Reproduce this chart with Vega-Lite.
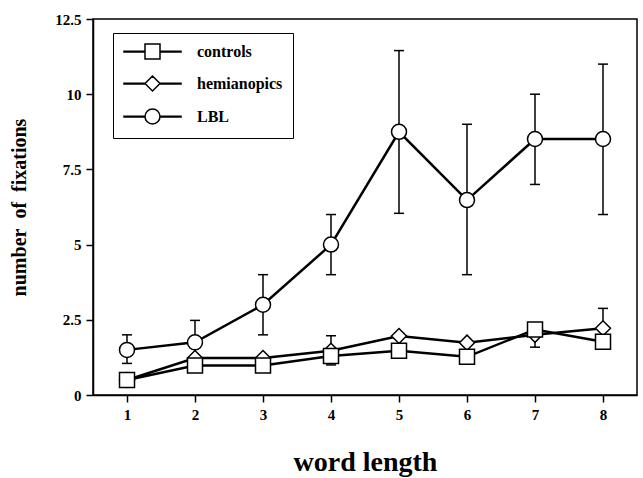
{
  "$schema": "https://vega.github.io/schema/vega-lite/v6.json",
  "width": 544,
  "height": 376,
  "autosize": "none",
  "padding": {"left": 93, "top": 19, "right": 6, "bottom": 83},
  "background": "white",
  "config": {
    "font": "Liberation Serif",
    "view": {"stroke": "black", "strokeWidth": 1.5},
    "axis": {
      "grid": false,
      "domainColor": "black",
      "domainWidth": 1.5,
      "tickColor": "black",
      "tickWidth": 1.5,
      "tickSize": 7,
      "labelFont": "Liberation Serif",
      "labelFontSize": 15,
      "labelFontWeight": "bold",
      "labelColor": "black",
      "titleFont": "Liberation Serif",
      "titleFontWeight": "bold",
      "titleColor": "black"
    }
  },
  "data": {
    "values": [
      {"series": "LBL", "len": 1, "value": 1.5, "lo": 1.05, "hi": 2.0},
      {"series": "LBL", "len": 2, "value": 1.75, "lo": 1.0, "hi": 2.48},
      {"series": "LBL", "len": 3, "value": 3.0, "lo": 2.0, "hi": 4.0},
      {"series": "LBL", "len": 4, "value": 5.0, "lo": 4.0, "hi": 6.0},
      {"series": "LBL", "len": 5, "value": 8.75, "lo": 6.04, "hi": 11.45},
      {"series": "LBL", "len": 6, "value": 6.48, "lo": 4.0, "hi": 9.0},
      {"series": "LBL", "len": 7, "value": 8.51, "lo": 7.0, "hi": 10.0},
      {"series": "LBL", "len": 8, "value": 8.51, "lo": 6.0, "hi": 11.0},
      {"series": "hemianopics", "len": 1, "value": 0.5, "lo": null, "hi": null},
      {"series": "hemianopics", "len": 2, "value": 1.23, "lo": null, "hi": null},
      {"series": "hemianopics", "len": 3, "value": 1.23, "lo": null, "hi": null},
      {"series": "hemianopics", "len": 4, "value": 1.47, "lo": 1.0, "hi": 1.97},
      {"series": "hemianopics", "len": 5, "value": 1.96, "lo": null, "hi": null},
      {"series": "hemianopics", "len": 6, "value": 1.74, "lo": null, "hi": null},
      {"series": "hemianopics", "len": 7, "value": 2.0, "lo": 1.59, "hi": 2.4},
      {"series": "hemianopics", "len": 8, "value": 2.22, "lo": 1.56, "hi": 2.88},
      {"series": "controls", "len": 1, "value": 0.5, "lo": null, "hi": null},
      {"series": "controls", "len": 2, "value": 0.98, "lo": null, "hi": null},
      {"series": "controls", "len": 3, "value": 0.98, "lo": null, "hi": null},
      {"series": "controls", "len": 4, "value": 1.3, "lo": null, "hi": null},
      {"series": "controls", "len": 5, "value": 1.47, "lo": null, "hi": null},
      {"series": "controls", "len": 6, "value": 1.27, "lo": null, "hi": null},
      {"series": "controls", "len": 7, "value": 2.18, "lo": null, "hi": null},
      {"series": "controls", "len": 8, "value": 1.77, "lo": null, "hi": null}
    ]
  },
  "encoding": {
    "x": {"field": "len", "type": "quantitative", "scale": {"domain": [0.5, 8.5], "nice": false}, "axis": {"values": [1,2,3,4,5,6,7,8], "title": "word length", "titleFontSize": 28, "titlePadding": 26, "labelPadding": 5}}
  },
  "layer": [
    {
      "transform": [{"filter": "isValid(datum.lo)"}],
      "mark": {"type": "rule", "color": "black", "strokeWidth": 1.5},
      "encoding": {
        "y": {"field": "lo", "type": "quantitative", "scale": {"domain": [0, 12.5], "nice": false}, "axis": {"values": [0, 2.5, 5, 7.5, 10, 12.5], "format": ".3~g", "title": "number\u00a0 of\u00a0 fixations", "titleFontSize": 20, "titlePadding": 25, "labelPadding": 5}},
        "y2": {"field": "hi"}
      }
    },
    {
      "transform": [{"filter": "isValid(datum.lo)"}],
      "mark": {"type": "tick", "color": "black", "thickness": 1.5, "size": 10, "orient": "horizontal", "opacity": 1},
      "encoding": {
        "y": {"field": "lo", "type": "quantitative"}
      }
    },
    {
      "transform": [{"filter": "isValid(datum.lo)"}],
      "mark": {"type": "tick", "color": "black", "thickness": 1.5, "size": 10, "orient": "horizontal", "opacity": 1},
      "encoding": {
        "y": {"field": "hi", "type": "quantitative"}
      }
    },
    {
      "mark": {"type": "line", "color": "black", "strokeWidth": 2.5},
      "encoding": {
        "y": {"field": "value", "type": "quantitative"},
        "detail": {"field": "series"}
      }
    },
    {
      "mark": {"type": "point", "filled": true, "fill": "white", "stroke": "black", "strokeWidth": 1.5, "size": 225, "opacity": 1},
      "encoding": {
        "y": {"field": "value", "type": "quantitative"},
        "shape": {
          "field": "series",
          "type": "nominal",
          "scale": {"domain": ["controls", "hemianopics", "LBL"], "range": ["square", "diamond", "circle"]},
          "legend": null
        }
      }
    },
    {
      "transform": [{"filter": "datum.len > 100"}],
      "mark": {"type": "point", "filled": false, "color": "black", "strokeWidth": 1.5, "size": 225, "opacity": 1},
      "encoding": {
        "y": {"field": "value", "type": "quantitative"},
        "shape": {
          "field": "series",
          "type": "nominal",
          "scale": {
            "domain": ["controls", "hemianopics", "LBL"],
            "range": [
              "M-1,-0.05H1.8V0.05H-1ZM3.8,-0.05H6.6V0.05H3.8ZM1.8,-1H3.8V1H1.8Z",
              "M-1,-0.05H1.8V0.05H-1ZM3.8,-0.05H6.6V0.05H3.8ZM2.8,-1L3.8,0L2.8,1L1.8,0Z",
              "M-1,-0.05H1.8V0.05H-1ZM3.8,-0.05H6.6V0.05H3.8ZM3.8,0A1,1,0,1,1,1.8,0A1,1,0,1,1,3.8,0Z"
            ]
          },
          "legend": {
            "title": null,
            "orient": "none",
            "legendX": 20,
            "legendY": 14,
            "direction": "vertical",
            "strokeColor": "black",
            "fillColor": "white",
            "padding": 10,
            "rowPadding": 11,
            "labelFont": "Liberation Serif",
            "labelFontSize": 16,
            "labelFontWeight": "bold",
            "labelColor": "black",
            "labelOffset": 57,
            "symbolSize": 225,
            "symbolStrokeWidth": 1.5
          }
        }
      }
    }
  ],
  "resolve": {"scale": {"shape": "independent"}, "legend": {"shape": "independent"}}
}
